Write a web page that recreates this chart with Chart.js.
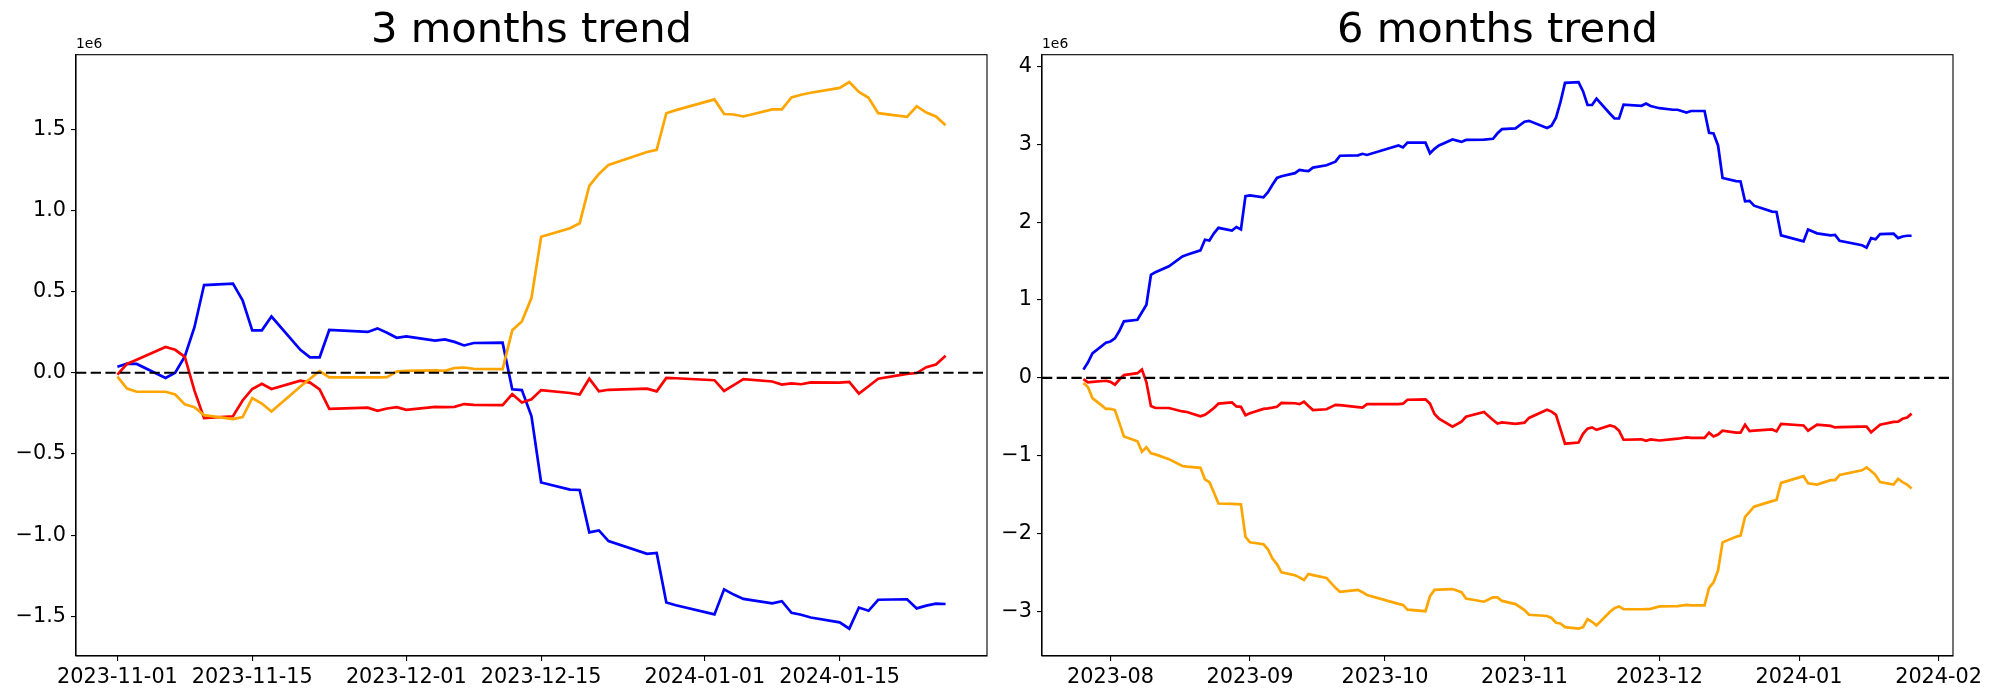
<!DOCTYPE html>
<html>
<head>
<meta charset="utf-8">
<script src="https://cdn.jsdelivr.net/npm/chart.js@4.4.1/dist/chart.umd.min.js"></script>
<style>
  html, body { margin: 0; padding: 0; background: #fff; }
  #wrap { position: relative; width: 2000px; height: 700px; }
  canvas { position: absolute; top: 0; }
</style>
</head>
<body>
<div id="wrap">
  <canvas id="chart3" width="1000" height="700" style="left:0"></canvas>
  <canvas id="chart6" width="1000" height="700" style="left:1000px"></canvas>
</div>
<script>
// values are in millions (axis shows the 1e6 offset)
const dates3 = [
  '2023-11-01','2023-11-02','2023-11-03','2023-11-06','2023-11-07','2023-11-08','2023-11-09','2023-11-10',
  '2023-11-13','2023-11-14','2023-11-15','2023-11-16','2023-11-17','2023-11-20','2023-11-21','2023-11-22',
  '2023-11-23','2023-11-27','2023-11-28','2023-11-29','2023-11-30','2023-12-01','2023-12-04','2023-12-05',
  '2023-12-06','2023-12-07','2023-12-08','2023-12-11','2023-12-12','2023-12-13','2023-12-14','2023-12-15',
  '2023-12-18','2023-12-19','2023-12-20','2023-12-21','2023-12-22','2023-12-26','2023-12-27','2023-12-28',
  '2023-12-29','2024-01-02','2024-01-03','2024-01-04','2024-01-05','2024-01-08','2024-01-09','2024-01-10',
  '2024-01-11','2024-01-12','2024-01-15','2024-01-16','2024-01-17','2024-01-18','2024-01-19','2024-01-22',
  '2024-01-23','2024-01-24','2024-01-25','2024-01-26'
];
const blue3 = [0.037, 0.056, 0.054, -0.032, 0.0, 0.10, 0.28, 0.54, 0.549, 0.446, 0.261, 0.261, 0.346, 0.141, 0.095, 0.095,
  0.263, 0.251, 0.273, 0.246, 0.215, 0.224, 0.198, 0.205, 0.19, 0.168, 0.183, 0.185, -0.102, -0.107, -0.268, -0.676,
  -0.72, -0.722, -0.983, -0.971, -1.037, -1.115, -1.11, -1.415, -1.432, -1.488, -1.334, -1.366, -1.393, -1.42, -1.407, -1.478,
  -1.49, -1.507, -1.537, -1.576, -1.446, -1.466, -1.398, -1.395, -1.451, -1.434, -1.422, -1.424];
const red3 = [-0.012, 0.054, 0.08, 0.159, 0.141, 0.098, -0.11, -0.28, -0.268, -0.171, -0.10, -0.068, -0.10, -0.049, -0.061, -0.102,
  -0.222, -0.215, -0.234, -0.22, -0.212, -0.229, -0.21, -0.212, -0.21, -0.193, -0.198, -0.20, -0.132, -0.183, -0.163, -0.107,
  -0.125, -0.134, -0.037, -0.115, -0.105, -0.098, -0.115, -0.032, -0.034, -0.046, -0.112, -0.076, -0.039, -0.054, -0.073, -0.066,
  -0.071, -0.059, -0.061, -0.056, -0.129, -0.083, -0.037, -0.007, -0.002, 0.034, 0.051, 0.105];
const orange3 = [-0.024, -0.098, -0.117, -0.117, -0.134, -0.195, -0.212, -0.261, -0.285, -0.273, -0.156, -0.19, -0.239, -0.085, -0.037, 0.01,
  -0.029, -0.029, -0.029, -0.027, 0.007, 0.012, 0.015, 0.012, 0.029, 0.032, 0.024, 0.022, 0.261, 0.315, 0.461, 0.837,
  0.89, 0.92, 1.151, 1.224, 1.28, 1.359, 1.373, 1.598, 1.617, 1.683, 1.593, 1.59, 1.578, 1.622, 1.622, 1.695,
  1.712, 1.724, 1.754, 1.79, 1.729, 1.693, 1.598, 1.576, 1.641, 1.602, 1.578, 1.524];

const dates6 = [
  '2023-07-26','2023-07-27','2023-07-28','2023-07-31','2023-08-01','2023-08-02','2023-08-03','2023-08-04',
  '2023-08-07','2023-08-08','2023-08-09','2023-08-10','2023-08-11','2023-08-14','2023-08-17','2023-08-18',
  '2023-08-21','2023-08-22','2023-08-23','2023-08-24','2023-08-25','2023-08-28','2023-08-29','2023-08-30',
  '2023-08-31','2023-09-01','2023-09-04','2023-09-05','2023-09-06','2023-09-07','2023-09-08','2023-09-11',
  '2023-09-12','2023-09-13','2023-09-14','2023-09-15','2023-09-18','2023-09-20','2023-09-21','2023-09-25',
  '2023-09-26','2023-09-27','2023-10-04','2023-10-05','2023-10-06','2023-10-10','2023-10-11','2023-10-12',
  '2023-10-13','2023-10-16','2023-10-18','2023-10-19','2023-10-23','2023-10-25','2023-10-26','2023-10-27',
  '2023-10-30','2023-11-01','2023-11-02','2023-11-06','2023-11-07','2023-11-08','2023-11-09','2023-11-10',
  '2023-11-13','2023-11-14','2023-11-15','2023-11-16','2023-11-17','2023-11-20','2023-11-21','2023-11-22',
  '2023-11-23','2023-11-27','2023-11-28','2023-11-29','2023-12-01','2023-12-04','2023-12-05','2023-12-07',
  '2023-12-08','2023-12-11','2023-12-12','2023-12-13','2023-12-14','2023-12-15','2023-12-18','2023-12-19',
  '2023-12-20','2023-12-21','2023-12-22','2023-12-26','2023-12-27','2023-12-28','2024-01-02','2024-01-03',
  '2024-01-05','2024-01-08','2024-01-09','2024-01-10','2024-01-15','2024-01-16','2024-01-17','2024-01-18',
  '2024-01-19','2024-01-22','2024-01-23','2024-01-24','2024-01-25','2024-01-26'
];
const blue6 = [0.107, 0.198, 0.315, 0.452, 0.468, 0.508, 0.605, 0.727,
  0.747, 0.844, 0.94, 1.322, 1.357, 1.434, 1.56, 1.58,
  1.637, 1.774, 1.764, 1.856, 1.927, 1.891, 1.937, 1.906,
  2.334, 2.344, 2.318, 2.384, 2.48, 2.567, 2.588, 2.628,
  2.669, 2.66, 2.654, 2.70, 2.73, 2.776, 2.852, 2.857,
  2.877, 2.862, 2.984, 2.959, 3.02, 3.02, 2.883, 2.94,
  2.984, 3.06, 3.03, 3.055, 3.06, 3.07, 3.14, 3.193,
  3.203, 3.289, 3.30, 3.208, 3.238, 3.34, 3.543, 3.787,
  3.798, 3.681, 3.503, 3.503, 3.584, 3.391, 3.33, 3.33,
  3.508, 3.493, 3.523, 3.49, 3.462, 3.442, 3.442, 3.406,
  3.426, 3.426, 3.147, 3.137, 2.984, 2.567, 2.527, 2.522,
  2.267, 2.272, 2.211, 2.135, 2.13, 1.83, 1.754, 1.906,
  1.856, 1.83, 1.835, 1.759, 1.703, 1.673, 1.795, 1.779,
  1.845, 1.851, 1.795, 1.815, 1.825, 1.825];
const red6 = [-0.015, -0.056, -0.05, -0.036, -0.05, -0.086, -0.02, 0.036,
  0.061, 0.107, -0.056, -0.361, -0.386, -0.386, -0.43, -0.437,
  -0.493, -0.473, -0.432, -0.386, -0.33, -0.315, -0.366, -0.371,
  -0.478, -0.452, -0.397, -0.39, -0.381, -0.37, -0.32, -0.325,
  -0.336, -0.305, -0.36, -0.412, -0.402, -0.346, -0.35, -0.375,
  -0.381, -0.336, -0.336, -0.33, -0.28, -0.275, -0.33, -0.463,
  -0.524, -0.625, -0.56, -0.498, -0.437, -0.539, -0.585, -0.57,
  -0.59, -0.574, -0.513, -0.407, -0.432, -0.473, -0.66, -0.844,
  -0.829, -0.717, -0.651, -0.635, -0.666, -0.61, -0.625, -0.676,
  -0.793, -0.788, -0.808, -0.79, -0.803, -0.785, -0.78, -0.763,
  -0.768, -0.768, -0.702, -0.752, -0.727, -0.676, -0.702, -0.702,
  -0.6, -0.681, -0.675, -0.661, -0.686, -0.59, -0.61, -0.676,
  -0.6, -0.615, -0.635, -0.63, -0.625, -0.625, -0.697, -0.65,
  -0.6, -0.564, -0.56, -0.524, -0.508, -0.458];
const orange6 = [-0.066, -0.117, -0.259, -0.397, -0.397, -0.412, -0.58, -0.752,
  -0.813, -0.946, -0.89, -0.966, -0.981, -1.042, -1.13, -1.139,
  -1.154, -1.301, -1.337, -1.47, -1.612, -1.617, -1.62, -1.622,
  -2.039, -2.11, -2.135, -2.2, -2.318, -2.389, -2.496, -2.532,
  -2.56, -2.593, -2.517, -2.53, -2.567, -2.694, -2.745, -2.72,
  -2.75, -2.786, -2.9, -2.913, -2.974, -2.994, -2.801, -2.72,
  -2.718, -2.71, -2.75, -2.832, -2.872, -2.816, -2.816, -2.862,
  -2.903, -2.979, -3.04, -3.055, -3.081, -3.142, -3.152, -3.198,
  -3.218, -3.198, -3.096, -3.13, -3.177, -3.0, -2.954, -2.933,
  -2.969, -2.969, -2.966, -2.964, -2.933, -2.93, -2.928, -2.913,
  -2.918, -2.918, -2.694, -2.623, -2.471, -2.11, -2.039, -2.023,
  -1.784, -1.72, -1.652, -1.581, -1.566, -1.347, -1.261, -1.352,
  -1.368, -1.312, -1.312, -1.246, -1.185, -1.149, -1.195, -1.246,
  -1.337, -1.368, -1.296, -1.337, -1.368, -1.418];

const xTicks3 = ['2023-11-01', '2023-11-15', '2023-12-01', '2023-12-15', '2024-01-01', '2024-01-15'];
const xTicks6 = ['2023-08', '2023-09', '2023-10', '2023-11', '2023-12', '2024-01', '2024-02'];
const yTicks3 = [-1.5, -1.0, -0.5, 0.0, 0.5, 1.0, 1.5];
const yTicks6 = [-3, -2, -1, 0, 1, 2, 3, 4];

const FONT = "'DejaVu Sans', sans-serif";

function toDay(s) {
    const p = s.split('-').map(Number);
    return Date.UTC(p[0], p[1] - 1, p[2] || 1) / 86400000;
}

function minus(str) {
    return str.replace('-', '\u2212');
}

// zero line, axes box and the 1e6 offset text
const decorations = {
    id: 'decorations',
    afterDatasetsDraw(chart) {
        const { ctx, chartArea } = chart;
        const y0 = chart.scales.y.getPixelForValue(0);
        ctx.save();
        ctx.strokeStyle = '#000';
        ctx.lineWidth = 2.2;
        ctx.setLineDash([10.3, 4.4]);
        ctx.beginPath();
        ctx.moveTo(chartArea.left, y0);
        ctx.lineTo(chartArea.right, y0);
        ctx.stroke();
        ctx.setLineDash([]);
        ctx.lineWidth = 1.1;
        ctx.strokeRect(chartArea.left, chartArea.top, chartArea.right - chartArea.left, chartArea.bottom - chartArea.top);
        ctx.fillStyle = '#000';
        ctx.font = '13.9px ' + FONT;
        ctx.textAlign = 'left';
        ctx.textBaseline = 'bottom';
        ctx.fillText('1e6', chartArea.left, chartArea.top - 3);
        ctx.restore();
    }
};

function makeChart(id, title, dates, blue, red, orange, xTicks, yTicks, yDigits, yWidth, padRight) {
    const xs = dates.map(toDay);
    const xr = xs[xs.length - 1] - xs[0];
    const all = blue.concat(red, orange);
    const lo = Math.min(...all), hi = Math.max(...all), yr = hi - lo;
    const line = (label, values, color, order) => ({
        label: label,
        data: values.map((v, i) => ({ x: xs[i], y: v })),
        borderColor: color,
        borderWidth: 2.7,
        pointRadius: 0,
        tension: 0,
        fill: false,
        order: order
    });
    const tickFont = { family: FONT, size: 20.8 };

    return new Chart(document.getElementById(id), {
        type: 'line',
        data: {
            datasets: [
                line('blue', blue, '#0000ff', 3),
                line('red', red, '#ff0000', 2),
                line('orange', orange, '#ffa500', 1)
            ]
        },
        options: {
            responsive: false,
            animation: false,
            devicePixelRatio: 1,
            layout: { padding: { left: 0, right: padRight, top: 0, bottom: 0 } },
            plugins: {
                legend: { display: false },
                tooltip: { enabled: false },
                title: {
                    display: true,
                    text: title,
                    fullSize: false,
                    color: '#000',
                    font: { family: FONT, size: 41.7, weight: 'normal', lineHeight: 1 },
                    padding: { top: 10, bottom: 3 }
                }
            },
            scales: {
                x: {
                    type: 'linear',
                    min: xs[0] - 0.05 * xr,
                    max: xs[xs.length - 1] + 0.05 * xr,
                    afterBuildTicks: sc => { sc.ticks = xTicks.map(t => ({ value: toDay(t) })); },
                    afterFit: sc => { sc.height = 44; },
                    ticks: {
                        callback: (v, i) => xTicks[i],
                        autoSkip: false,
                        maxRotation: 0,
                        color: '#000',
                        font: tickFont,
                        padding: 4
                    },
                    grid: { drawOnChartArea: false, drawTicks: true, tickLength: 5, color: '#000', lineWidth: 1.1 },
                    border: { display: true, color: '#000', width: 1.1 }
                },
                y: {
                    type: 'linear',
                    min: lo - 0.05 * yr,
                    max: hi + 0.05 * yr,
                    afterBuildTicks: sc => { sc.ticks = yTicks.map(v => ({ value: v })); },
                    afterFit: sc => { sc.width = yWidth; },
                    ticks: {
                        callback: v => minus(v.toFixed(yDigits)),
                        autoSkip: false,
                        color: '#000',
                        font: tickFont,
                        padding: 5
                    },
                    grid: { drawOnChartArea: false, drawTicks: true, tickLength: 5, color: '#000', lineWidth: 1.1 },
                    border: { display: true, color: '#000', width: 1.1 }
                }
            }
        },
        plugins: [decorations]
    });
}

makeChart('chart3', '3 months trend', dates3, blue3, red3, orange3, xTicks3, yTicks3, 1, 76, 13);
makeChart('chart6', '6 months trend', dates6, blue6, red6, orange6, xTicks6, yTicks6, 0, 42, 47);
</script>
</body>
</html>
